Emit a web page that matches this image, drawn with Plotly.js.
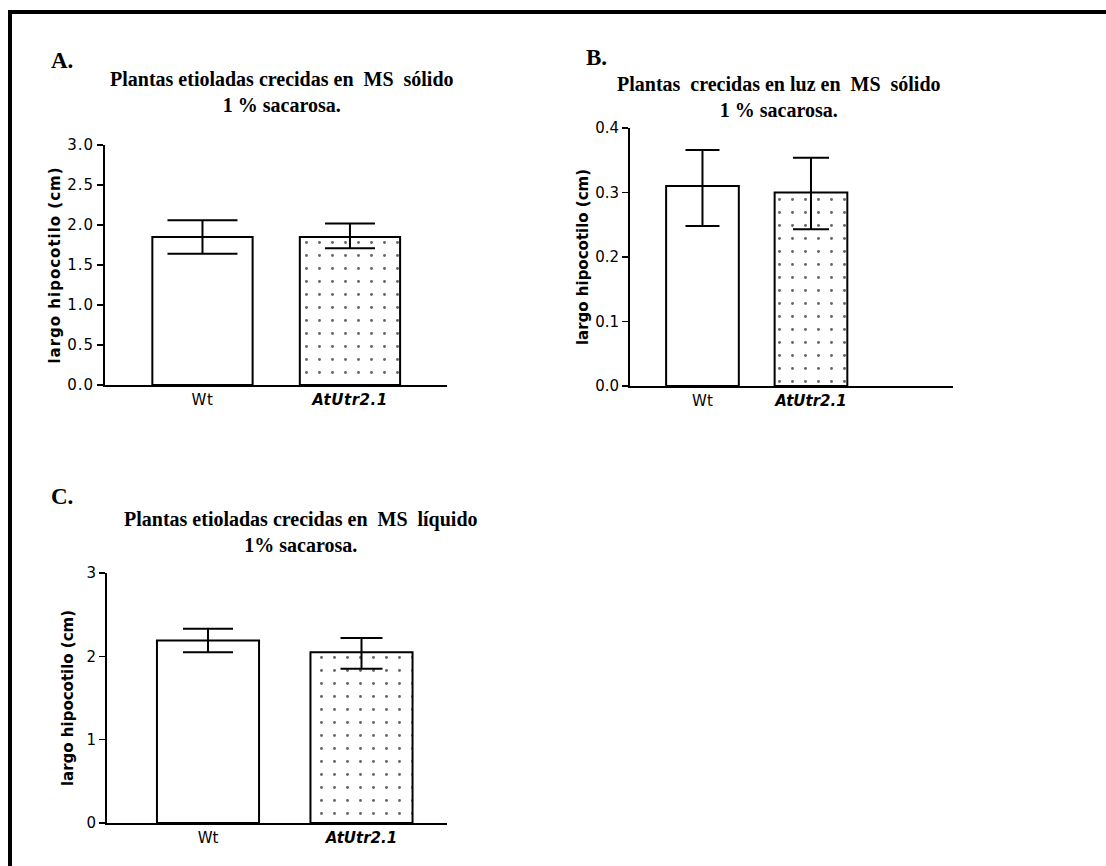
<!DOCTYPE html>
<html>
<head>
<meta charset="utf-8">
<script src="https://cdn.plot.ly/plotly-3.0.1.min.js"></script>
<style>
  html, body { margin: 0; padding: 0; background: #fff; }
  #chart { width: 1106px; height: 866px; }
  .ytitle { letter-spacing: 1px; }
  .ytick text { letter-spacing: 1px; }
  .xtick text { letter-spacing: 0.5px; }
</style>
</head>
<body>
<div id="chart"></div>
<script>
// ---- Data ----
const categories = ["Wt", "AtUtr2.1"];
const tickLabels = ["Wt", "<b><i>AtUtr2.1</i></b>"];

// Panel A: etiolated plants, solid MS, 1% sucrose
const meanA = [1.85, 1.85];
const upperA = [2.06, 2.02];
const lowerA = [1.64, 1.71];

// Panel B: light-grown plants, solid MS, 1% sucrose
const meanB = [0.31, 0.30];
const upperB = [0.366, 0.354];
const lowerB = [0.248, 0.243];

// Panel C: etiolated plants, liquid MS, 1% sucrose
const meanC = [2.19, 2.05];
const upperC = [2.33, 2.22];
const lowerC = [2.05, 1.85];

const panelLetters = ["A.", "B.", "C."];
const titleLines = [
  ["Plantas etioladas crecidas en  MS  sólido", "1 % sacarosa."],
  ["Plantas  crecidas en luz en  MS  sólido", "1 % sacarosa."],
  ["Plantas etioladas crecidas en  MS  líquido", "1% sacarosa."]
];
const yTitle = "largo hipocotilo (cm)";

// ---- Build ----
const W = 1106, H = 866;
const px = v => v / W;
const py = v => 1 - v / H;

const capWidths = { x: [35, 25], x2: [17, 18], x3: [25, 21] };
const barWidths = { x: 0.68, x2: 0.67, x3: 0.665 };

function panelTraces(means, uppers, lowers, xa, ya) {
  return categories.map((c, i) => ({
    type: "bar",
    x: [i],
    y: [means[i]],
    xaxis: xa, yaxis: ya,
    width: barWidths[xa],
    marker: {
      color: "white",
      line: { color: "black", width: 2 },
      pattern: i === 1 ? { shape: ".", fgcolor: "#666", bgcolor: "white", size: 13, solidity: 0.04 } : { shape: "" }
    },
    error_y: {
      type: "data", symmetric: false,
      array: [uppers[i] - means[i]],
      arrayminus: [means[i] - lowers[i]],
      color: "black", thickness: 2, width: capWidths[xa][i]
    },
    hoverinfo: "skip",
    showlegend: false
  }));
}

const traces = [
  ...panelTraces(meanA, upperA, lowerA, "x", "y"),
  ...panelTraces(meanB, upperB, lowerB, "x2", "y2"),
  ...panelTraces(meanC, upperC, lowerC, "x3", "y3")
];

const tickFont = { family: "DejaVu Sans, Liberation Sans, Arial", size: 15, color: "black" };
const yTitleFont = { family: "DejaVu Sans, Liberation Sans, Arial", size: 15, color: "black" };

function xAxis(domain, range, anchor) {
  return {
    domain: domain, range: range, anchor: anchor,
    tickmode: "array", tickvals: [0, 1], ticktext: tickLabels,
    ticks: "", showgrid: false, zeroline: false,
    showline: true, linecolor: "black", linewidth: 2,
    tickfont: { family: "DejaVu Sans, Liberation Sans, Arial", size: 15, color: "black" },
    fixedrange: true
  };
}
function yAxis(domain, range, dtick, fmt, anchor, standoff) {
  return {
    domain: domain, range: range, anchor: anchor,
    tickmode: "linear", tick0: 0, dtick: dtick, tickformat: fmt,
    ticks: "outside", ticklen: 6, tickwidth: 1.5, tickcolor: "black",
    showgrid: false, zeroline: false,
    showline: true, linecolor: "black", linewidth: 2,
    tickfont: tickFont,
    title: { text: "<b>" + yTitle + "</b>", font: yTitleFont, standoff: standoff },
    fixedrange: true
  };
}

const titleFont = { family: "Liberation Serif, Times New Roman, serif", size: 20, color: "black" };
const letterFont = { family: "Liberation Serif, Times New Roman, serif", size: 23, color: "black" };

const titleSpecs = [
  { cx: 282, cy: 92 },
  { cx: 779, cy: 97 },
  { cx: 301, cy: 532 }
];
const letterPos = [[49, 60], [584, 57], [49, 496]];

const annotations = [];
titleSpecs.forEach((s, k) => {
  annotations.push({ xref: "paper", yref: "paper", x: px(s.cx), y: py(s.cy),
    text: "<b>" + titleLines[k][0] + "<br>" + titleLines[k][1] + "</b>",
    showarrow: false, font: titleFont, xanchor: "center", yanchor: "middle", align: "center" });
  annotations.push({ xref: "paper", yref: "paper", x: px(letterPos[k][0]), y: py(letterPos[k][1]), text: "<b>" + panelLetters[k] + "</b>",
    showarrow: false, font: letterFont, xanchor: "left", yanchor: "middle" });
});

const layout = {
  width: W, height: H,
  margin: { l: 0, r: 0, t: 0, b: 0 },
  paper_bgcolor: "white", plot_bgcolor: "rgba(0,0,0,0)",
  showlegend: false,
  bargap: 0,
  xaxis: xAxis([px(105), px(447)], [-0.661, 1.658], "y"),
  yaxis: yAxis([py(385), py(145)], [0, 3], 0.5, ".1f", "x", 3),
  xaxis2: xAxis([px(630), px(953)], [-0.668, 2.309], "y2"),
  yaxis2: yAxis([py(386), py(128)], [0, 0.4], 0.1, ".1f", "x2", 3),
  xaxis3: xAxis([px(107), px(447)], [-0.658, 1.557], "y3"),
  yaxis3: yAxis([py(823), py(573)], [0, 3], 1, "d", "x3", 9),
  annotations: annotations,
  shapes: [
    { type: "line", xref: "paper", yref: "paper", x0: px(8), x1: 1, y0: py(12), y1: py(12), line: { color: "black", width: 4 } },
    { type: "line", xref: "paper", yref: "paper", x0: px(10), x1: px(10), y0: py(10), y1: 0, line: { color: "black", width: 4 } }
  ]
};

Plotly.newPlot("chart", traces, layout, { displayModeBar: false, staticPlot: true });
</script>
</body>
</html>
